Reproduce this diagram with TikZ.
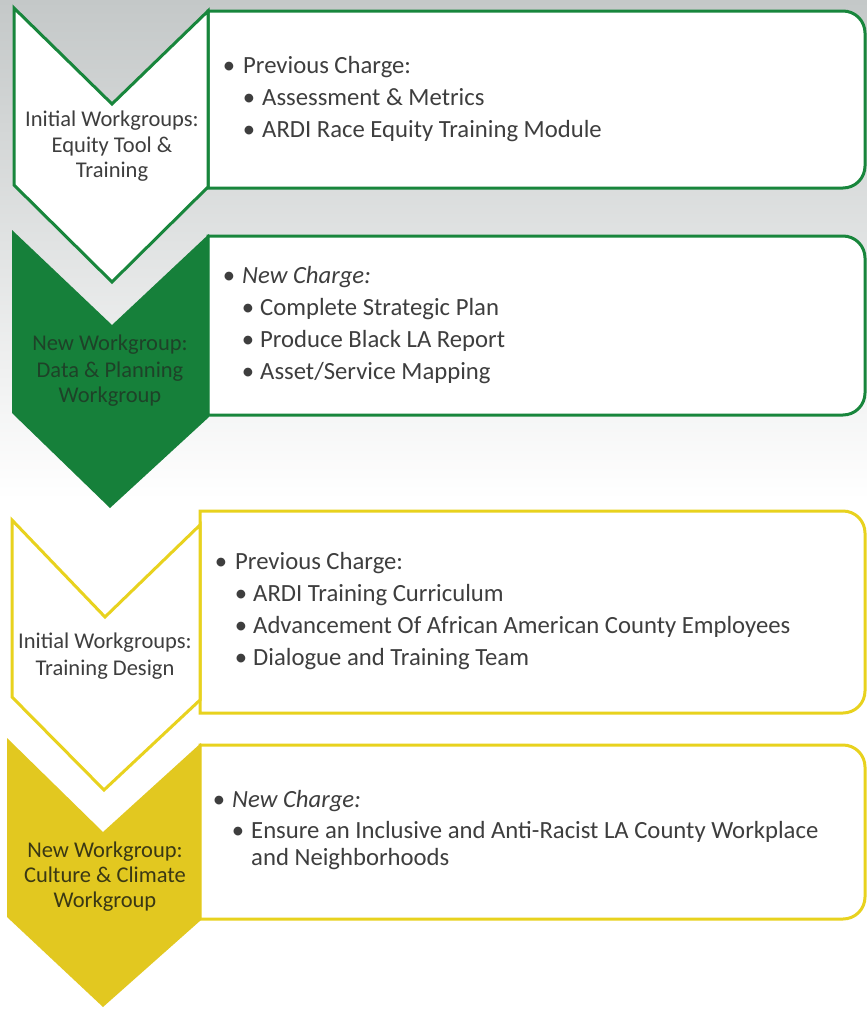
\documentclass[tikz,border=0pt]{standalone}
\usepackage{fontspec}
\setmainfont{Carlito}
\definecolor{grn}{RGB}{24,134,60}
\definecolor{grnfill}{RGB}{22,128,58}
\definecolor{yel}{RGB}{232,210,30}
\definecolor{yelfill}{RGB}{226,200,32}
\definecolor{txtc}{RGB}{62,62,62}
\definecolor{txtg}{RGB}{30,66,40}
\definecolor{txty}{RGB}{58,56,20}
\definecolor{bgtop}{RGB}{196,200,200}
\begin{document}
\begin{tikzpicture}[x=1pt,y=-1pt,
  boxG/.style={fill=white,draw=grn,line width=3pt},
  boxY/.style={fill=white,draw=yel,line width=3pt},
  chevG/.style={fill=white,draw=grn,line width=3pt,line join=miter},
  chevGF/.style={fill=grnfill,draw=none},
  chevY/.style={fill=white,draw=yel,line width=3pt,line join=miter},
  chevYF/.style={fill=yelfill,draw=none},
  txt/.style={anchor=base west,inner sep=0pt,text=txtc,font=\fontsize{24.7}{30}\selectfont},
  bul/.style={anchor=base,inner sep=0pt,text=txtc,font=\fontsize{24.7}{30}\selectfont},
  lab/.style={anchor=base,inner sep=0pt,text=txtc,font=\fontsize{22.5}{26}\selectfont},
  labG/.style={lab,text=txtg},
  labY/.style={lab,text=txty}]
\useasboundingbox (0,0) rectangle (867,1009);
\fill[white] (0,0) rectangle (867,1009);
\shade[top color=bgtop,bottom color=white] (0,0) rectangle (867,500);

% boxes
\path[boxG] (208,11) -- (843,11) arc[start angle=-90,end angle=0,radius=22] -- (865,166) arc[start angle=0,end angle=90,radius=22] -- (208,188) -- cycle;
\path[boxG] (208,236) -- (843,236) arc[start angle=-90,end angle=0,radius=22] -- (865,393) arc[start angle=0,end angle=90,radius=22] -- (208,415) -- cycle;
\path[boxY] (200,511) -- (843,511) arc[start angle=-90,end angle=0,radius=22] -- (865,691) arc[start angle=0,end angle=90,radius=22] -- (200,713) -- cycle;
\path[boxY] (200,745) -- (843,745) arc[start angle=-90,end angle=0,radius=22] -- (865,897) arc[start angle=0,end angle=90,radius=22] -- (200,919) -- cycle;

% chevrons
\path[chevG] (14,8) -- (112,104) -- (208,11) -- (208,187) -- (112,282) -- (14,185) -- cycle;
\path[chevGF] (12,230) -- (112,325) -- (209,234) -- (209,417) -- (110,508) -- (12,413) -- cycle;
\path[chevY] (12,520) -- (105,617) -- (200,525) -- (200,700) -- (104,790) -- (12,697) -- cycle;
\path[chevYF] (7,738) -- (103,832) -- (201,743) -- (201,920) -- (103,1007) -- (7,917) -- cycle;

% chevron labels
\node[lab] (c1a) at (112,126) {Initial Workgroups:};
\node[lab] (c1b) at (112,152) {Equity Tool \&};
\node[lab] (c1c) at (112,177) {Training};
\node[labG] (c2a) at (110,350) {New Workgroup:};
\node[labG] (c2b) at (110,377) {Data \& Planning};
\node[labG] (c2c) at (110,402) {Workgroup};
\node[lab] (c3a) at (105,648) {Initial Workgroups:};
\node[lab] (c3b) at (105,675) {Training Design};
\node[labY] (c4a) at (105,857) {New Workgroup:};
\node[labY] (c4b) at (105,882) {Culture \& Climate};
\node[labY] (c4c) at (105,907) {Workgroup};

% box 1
\node[bul] (b1a) at (229,73) {•};
\node[txt] (t1a) at (243,73) {Previous Charge:};
\node[bul] (b1b) at (249,105) {•};
\node[txt] (t1b) at (262,105) {Assessment \& Metrics};
\node[bul] (b1c) at (249,137) {•};
\node[txt] (t1c) at (262,137) {ARDI Race Equity Training Module};

% box 2
\node[bul] (b2a) at (229,283) {•};
\node[txt] (t2a) at (242,283) {\itshape New Charge:};
\node[bul] (b2b) at (248,315) {•};
\node[txt] (t2b) at (260,315) {Complete Strategic Plan};
\node[bul] (b2c) at (248,347) {•};
\node[txt] (t2c) at (260,347) {Produce Black LA Report};
\node[bul] (b2d) at (248,379) {•};
\node[txt] (t2d) at (260,379) {Asset/Service Mapping};

% box 3
\node[bul] (b3a) at (221,569) {•};
\node[txt] (t3a) at (235,569) {Previous Charge:};
\node[bul] (b3b) at (241,601) {•};
\node[txt] (t3b) at (253,601) {ARDI Training Curriculum};
\node[bul] (b3c) at (241,633) {•};
\node[txt] (t3c) at (253,633) {Advancement Of African American County Employees};
\node[bul] (b3d) at (241,665) {•};
\node[txt] (t3d) at (253,665) {Dialogue and Training Team};

% box 4
\node[bul] (b4a) at (219,807) {•};
\node[txt] (t4a) at (232,807) {\itshape New Charge:};
\node[bul] (b4b) at (238,838) {•};
\node[txt] (t4b) at (251,838) {Ensure an Inclusive and Anti-Racist LA County Workplace};
\node[txt] (t4c) at (251,865) {and Neighborhoods};
\end{tikzpicture}
\end{document}
